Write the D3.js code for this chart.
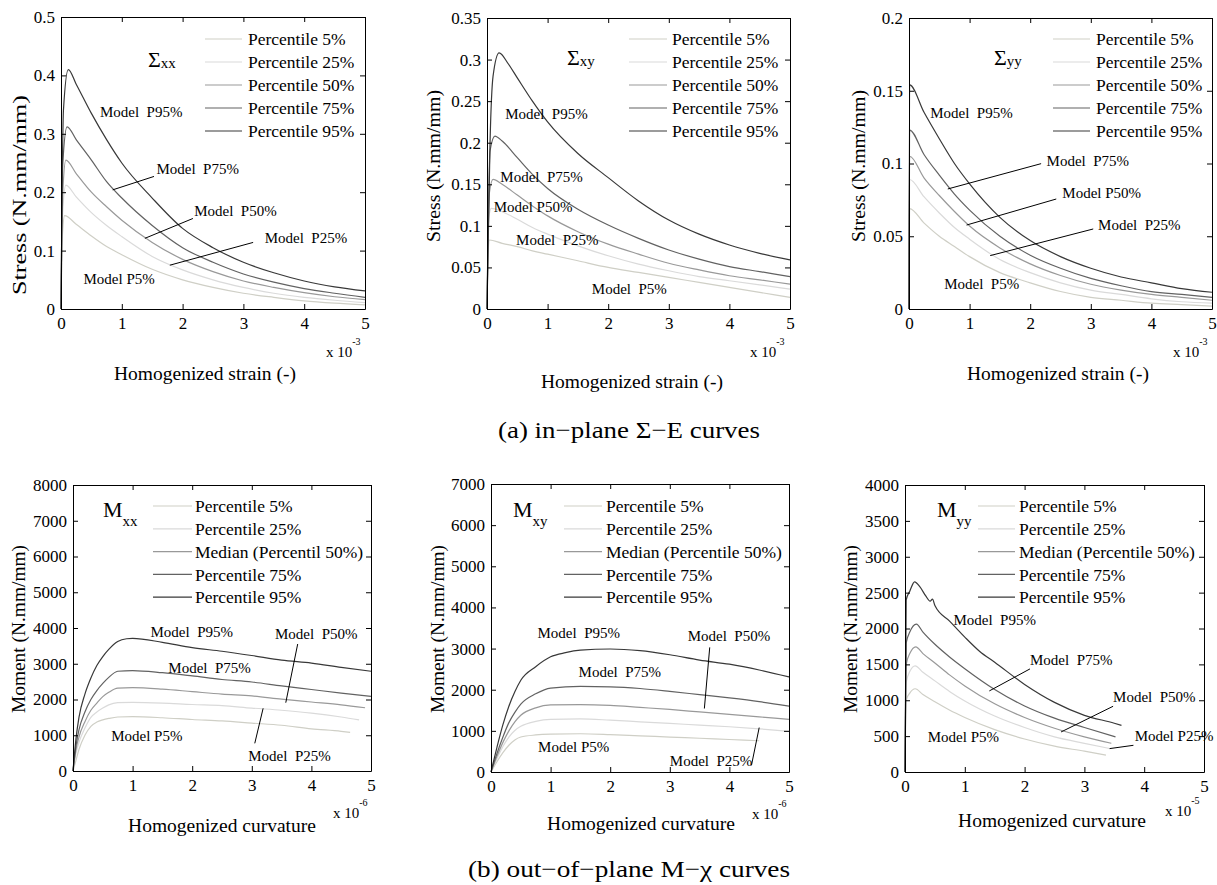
<!DOCTYPE html>
<html>
<head>
<meta charset="utf-8">
<script src="https://cdn.jsdelivr.net/npm/d3@7"></script>
<style>
  body { margin: 0; background: #fff; }
  text { font-family: "Liberation Serif", "Times New Roman", serif; fill: #000; }
  .anno { white-space: pre; font-size: 15px; }
</style>
</head>
<body>
<svg id="fig" width="1217" height="885"></svg>
<script>
// ---- data ---------------------------------------------------------------
// strain in 1e-3 units, stress in N.mm/mm
const sxxP5  = [[0,0],[0.02,0.12],[0.06,0.16],[0.25,0.145],[0.5,0.125],[0.75,0.107],[1,0.093],[1.5,0.068],[2,0.05],[2.5,0.037],[3,0.027],[3.5,0.02],[4,0.014],[4.5,0.01],[5,0.007]];
const sxxP25 = [[0,0],[0.03,0.17],[0.08,0.212],[0.25,0.192],[0.5,0.165],[0.75,0.143],[1,0.124],[1.5,0.09],[2,0.067],[2.5,0.05],[3,0.037],[3.5,0.027],[4,0.02],[4.5,0.015],[5,0.011]];
const sxxP50 = [[0,0],[0.03,0.2],[0.08,0.255],[0.25,0.232],[0.5,0.2],[0.75,0.175],[1,0.152],[1.5,0.114],[2,0.085],[2.5,0.064],[3,0.048],[3.5,0.037],[4,0.028],[4.5,0.021],[5,0.016]];
const sxxP75 = [[0,0],[0.03,0.25],[0.1,0.312],[0.25,0.29],[0.5,0.255],[0.75,0.218],[1,0.19],[1.5,0.143],[2,0.105],[2.5,0.08],[3,0.06],[3.5,0.046],[4,0.035],[4.5,0.027],[5,0.02]];
const sxxP95 = [[0,0],[0.04,0.34],[0.12,0.41],[0.25,0.385],[0.5,0.335],[0.75,0.29],[1,0.25],[1.5,0.19],[2,0.138],[2.5,0.105],[3,0.08],[3.5,0.062],[4,0.048],[4.5,0.038],[5,0.031]];

const sxyP5  = [[0,0],[0.02,0.07],[0.04,0.083],[0.25,0.079],[0.5,0.075],[0.75,0.07],[1,0.066],[1.5,0.058],[2,0.05],[2.5,0.044],[3,0.038],[3.5,0.032],[4,0.026],[4.5,0.02],[5,0.014]];
const sxyP25 = [[0,0],[0.03,0.11],[0.07,0.121],[0.25,0.117],[0.5,0.108],[0.75,0.098],[1,0.09],[1.5,0.076],[2,0.064],[2.5,0.054],[3,0.046],[3.5,0.039],[4,0.034],[4.5,0.029],[5,0.024]];
const sxyP50 = [[0,0],[0.04,0.14],[0.1,0.156],[0.25,0.15],[0.5,0.137],[0.75,0.124],[1,0.112],[1.5,0.093],[2,0.078],[2.5,0.066],[3,0.055],[3.5,0.047],[4,0.04],[4.5,0.035],[5,0.03]];
const sxyP75 = [[0,0],[0.05,0.19],[0.13,0.208],[0.25,0.202],[0.5,0.182],[0.75,0.162],[1,0.145],[1.5,0.12],[2,0.101],[2.5,0.085],[3,0.071],[3.5,0.06],[4,0.051],[4.5,0.045],[5,0.039]];
const sxyP95 = [[0,0],[0.05,0.2],[0.1,0.28],[0.2,0.308],[0.35,0.295],[0.5,0.278],[0.75,0.25],[1,0.225],[1.5,0.187],[2,0.158],[2.5,0.13],[3,0.107],[3.5,0.09],[4,0.077],[4.5,0.067],[5,0.059]];

const syyP5  = [[0,0],[0.01,0.069],[0.25,0.059],[0.5,0.05],[0.75,0.043],[1,0.036],[1.5,0.025],[2,0.018],[2.5,0.012],[3,0.008],[3.5,0.006],[4,0.004],[4.5,0.003],[5,0.002]];
const syyP25 = [[0,0],[0.01,0.089],[0.25,0.077],[0.5,0.066],[0.75,0.056],[1,0.048],[1.5,0.034],[2,0.025],[2.5,0.018],[3,0.013],[3.5,0.01],[4,0.007],[4.5,0.005],[5,0.004]];
const syyP50 = [[0,0],[0.01,0.105],[0.25,0.09],[0.5,0.078],[0.75,0.067],[1,0.057],[1.5,0.042],[2,0.031],[2.5,0.023],[3,0.017],[3.5,0.013],[4,0.01],[4.5,0.008],[5,0.006]];
const syyP75 = [[0,0],[0.01,0.123],[0.25,0.106],[0.5,0.092],[0.75,0.079],[1,0.068],[1.5,0.05],[2,0.037],[2.5,0.028],[3,0.021],[3.5,0.016],[4,0.012],[4.5,0.01],[5,0.008]];
const syyP95 = [[0,0],[0.01,0.154],[0.25,0.135],[0.5,0.117],[0.75,0.1],[1,0.086],[1.5,0.063],[2,0.047],[2.5,0.036],[3,0.028],[3.5,0.022],[4,0.018],[4.5,0.014],[5,0.0115]];

// curvature in 1e-6 (xx, xy) and 1e-5 (yy) units, moment in N.mm/mm
const mxxP5  = [[0,0],[0.05,300],[0.1,600],[0.2,1000],[0.3,1250],[0.4,1370],[0.5,1430],[0.6,1470],[0.75,1510],[1,1520],[1.5,1490],[2,1440],[2.5,1400],[3,1340],[3.5,1280],[4,1180],[4.5,1110],[4.65,1080]];
const mxxP25 = [[0,0],[0.05,500],[0.1,800],[0.2,1200],[0.3,1500],[0.4,1650],[0.5,1760],[0.6,1850],[0.75,1910],[1,1920],[1.5,1900],[2,1860],[2.5,1830],[3,1760],[3.5,1700],[4,1620],[4.5,1510],[4.8,1430]];
const mxxP50 = [[0,0],[0.05,600],[0.1,950],[0.2,1380],[0.3,1700],[0.4,1900],[0.5,2080],[0.6,2200],[0.75,2320],[1,2330],[1.5,2290],[2,2220],[2.5,2150],[3,2100],[3.5,2010],[4,1930],[4.5,1850],[4.9,1770]];
const mxxP75 = [[0,0],[0.05,700],[0.1,1150],[0.2,1650],[0.3,2000],[0.4,2250],[0.5,2450],[0.6,2620],[0.75,2790],[1,2810],[1.5,2750],[2,2660],[2.5,2560],[3,2490],[3.5,2380],[4,2280],[4.5,2180],[5,2090]];
const mxxP95 = [[0,0],[0.05,900],[0.1,1500],[0.2,2150],[0.3,2600],[0.4,2950],[0.5,3200],[0.6,3400],[0.75,3620],[0.9,3700],[1,3710],[1.5,3600],[2,3450],[2.5,3350],[3,3230],[3.5,3100],[4,3020],[4.5,2900],[5,2790]];

const mxyP5  = [[0,0],[0.1,250],[0.2,470],[0.3,650],[0.4,780],[0.5,850],[0.75,900],[1,920],[1.5,930],[2,910],[2.5,880],[3,850],[3.5,820],[4,790],[4.5,760]];
const mxyP25 = [[0,0],[0.1,320],[0.2,620],[0.3,850],[0.4,1010],[0.5,1110],[0.75,1230],[1,1280],[1.5,1290],[2,1260],[2.5,1220],[3,1180],[3.5,1140],[4,1100],[4.5,1050],[5,990]];
const mxyP50 = [[0,0],[0.1,380],[0.2,720],[0.3,1000],[0.4,1220],[0.5,1380],[0.75,1560],[1,1630],[1.5,1640],[2,1620],[2.5,1570],[3,1520],[3.5,1460],[4,1400],[4.5,1340],[5,1280]];
const mxyP75 = [[0,0],[0.1,450],[0.2,850],[0.3,1200],[0.4,1450],[0.5,1650],[0.75,1900],[1,2040],[1.5,2080],[2,2070],[2.5,2030],[3,1960],[3.5,1880],[4,1800],[4.5,1710],[5,1600]];
const mxyP95 = [[0,0],[0.1,600],[0.2,1150],[0.3,1600],[0.4,1950],[0.5,2230],[0.75,2560],[1,2800],[1.25,2900],[1.5,2960],[2,2990],[2.5,2950],[3,2850],[3.5,2720],[4,2620],[4.5,2480],[5,2310]];

const myyP5  = [[0,0],[0.02,1000],[0.08,1100],[0.17,1160],[0.3,1080],[0.5,980],[0.75,860],[1,760],[1.5,590],[2,460],[2.5,360],[3,290],[3.36,235]];
const myyP25 = [[0,0],[0.02,1250],[0.08,1400],[0.17,1480],[0.3,1390],[0.5,1270],[0.75,1120],[1,990],[1.5,780],[2,620],[2.5,490],[3,400],[3.41,330]];
const myyP50 = [[0,0],[0.02,1500],[0.08,1650],[0.18,1745],[0.3,1650],[0.5,1520],[0.75,1350],[1,1200],[1.5,950],[2,760],[2.5,610],[3,490],[3.45,400]];
const myyP75 = [[0,0],[0.02,1800],[0.08,1950],[0.19,2060],[0.3,1950],[0.5,1780],[0.75,1600],[1,1440],[1.5,1150],[2,920],[2.5,750],[3,620],[3.52,490]];
const myyP95 = [[0,0],[0.02,2400],[0.08,2520],[0.16,2650],[0.25,2580],[0.35,2450],[0.42,2380],[0.46,2410],[0.5,2320],[0.75,2100],[1,1880],[1.25,1680],[1.5,1530],[2,1220],[2.5,970],[3,790],[3.5,680],[3.62,650]];

// tick values
const xTicks = [0, 1, 2, 3, 4, 5];
const yTicksSxx = [0, 0.1, 0.2, 0.3, 0.4, 0.5];
const yTicksSxy = [0, 0.05, 0.1, 0.15, 0.2, 0.25, 0.3, 0.35];
const yTicksSyy = [0, 0.05, 0.1, 0.15, 0.2];
const yTicksMxx = [0, 1000, 2000, 3000, 4000, 5000, 6000, 7000, 8000];
const yTicksMxy = [0, 1000, 2000, 3000, 4000, 5000, 6000, 7000];
const yTicksMyy = [0, 500, 1000, 1500, 2000, 2500, 3000, 3500, 4000];

// legend entries
const legendStress = ["Percentile 5%", "Percentile 25%", "Percentile 50%", "Percentile 75%", "Percentile 95%"];
const legendMxx = ["Percentile 5%", "Percentile 25%", "Median (Percentil 50%)", "Percentile 75%", "Percentile 95%"];
const legendMoment = ["Percentile 5%", "Percentile 25%", "Median (Percentile 50%)", "Percentile 75%", "Percentile 95%"];

// "Model Pxx%" call-outs (data coords), optional leader line [x1,y1,x2,y2]
const annoSxx = [
  { t: "Model  P95%", x: 0.64, y: 0.328 },
  { t: "Model  P75%", x: 1.57, y: 0.231, l: [1.53, 0.227, 0.85, 0.204] },
  { t: "Model  P50%", x: 2.19, y: 0.159, l: [2.17, 0.155, 1.38, 0.121] },
  { t: "Model  P25%", x: 3.35, y: 0.113, l: [3.16, 0.114, 1.79, 0.075] },
  { t: "Model P5%", x: 0.37, y: 0.043 }
];
const annoSxy = [
  { t: "Model  P95%", x: 0.30, y: 0.229 },
  { t: "Model  P75%", x: 0.22, y: 0.153 },
  { t: "Model P50%", x: 0.11, y: 0.117 },
  { t: "Model  P25%", x: 0.48, y: 0.077 },
  { t: "Model  P5%", x: 1.73, y: 0.018 }
];
const annoSyy = [
  { t: "Model  P95%", x: 0.35, y: 0.131 },
  { t: "Model  P75%", x: 2.27, y: 0.098, l: [2.18, 0.0999, 0.64, 0.0825] },
  { t: "Model P50%", x: 2.53, y: 0.0765, l: [2.43, 0.0756, 0.95, 0.0577] },
  { t: "Model  P25%", x: 3.12, y: 0.054, l: [3.04, 0.055, 1.34, 0.0367] },
  { t: "Model  P5%", x: 0.58, y: 0.0135 }
];
const annoMxx = [
  { t: "Model  P95%", x: 1.30, y: 3758 },
  { t: "Model  P50%", x: 3.39, y: 3692, l: [3.77, 3552, 3.57, 1911] },
  { t: "Model  P75%", x: 1.60, y: 2741 },
  { t: "Model P5%", x: 0.64, y: 848 },
  { t: "Model  P25%", x: 2.94, y: 289, l: [3.05, 774, 3.19, 1753] }
];
const annoMxy = [
  { t: "Model  P95%", x: 0.78, y: 3248 },
  { t: "Model  P50%", x: 3.30, y: 3191, l: [3.67, 3029, 3.58, 1543] },
  { t: "Model  P75%", x: 1.47, y: 2298 },
  { t: "Model P5%", x: 0.79, y: 495 },
  { t: "Model  P25%", x: 3.0, y: 146, l: [4.37, 162, 4.50, 1080] }
];
const annoMyy = [
  { t: "Model  P95%", x: 0.81, y: 2051 },
  { t: "Model  P75%", x: 2.09, y: 1493, l: [2.09, 1437, 1.41, 1130] },
  { t: "Model  P50%", x: 3.48, y: 981, l: [3.48, 916, 2.61, 558] },
  { t: "Model P25%", x: 3.84, y: 433, l: [3.82, 372, 3.42, 326] },
  { t: "Model P5%", x: 0.38, y: 419 }
];

// ---- styling / layout -----------------------------------------------------
const seriesColors = ["#cfcfc6", "#dadada", "#999999", "#626262", "#383838"];

const panels = [
  { box: [61, 365, 17, 309], yMax: 0.5, yTicks: yTicksSxx, series: [sxxP5, sxxP25, sxxP50, sxxP75, sxxP95],
    legend: legendStress, leg: [205, 242, 248, 39, 23], sym: ["Σ", "xx", 148, 67, 1],
    ylab: ["Stress (N.mm/mm)", 19, 195, 200], xlab: ["Homogenized strain (-)", 205, 380], expo: ["-3", 326, 357], anno: annoSxx },
  { box: [487, 790, 18, 309], yMax: 0.35, yTicks: yTicksSxy, series: [sxyP5, sxyP25, sxyP50, sxyP75, sxyP95],
    legend: legendStress, leg: [629, 667, 672, 39, 23], sym: ["Σ", "xy", 567, 65, 1],
    ylab: ["Stress (N.mm/mm)", 433, 166, 152], xlab: ["Homogenized strain (-)", 632, 388], expo: ["-3", 750, 357], anno: annoSxy },
  { box: [909, 1212, 18, 309], yMax: 0.2, yTicks: yTicksSyy, series: [syyP5, syyP25, syyP50, syyP75, syyP95],
    legend: legendStress, leg: [1053, 1090, 1096, 39, 23], sym: ["Σ", "yy", 994, 65, 1],
    ylab: ["Stress (N.mm/mm)", 858, 166, 152], xlab: ["Homogenized strain (-)", 1058, 380], expo: ["-3", 1173, 357], anno: annoSyy },
  { box: [73, 371, 485, 771], yMax: 8000, yTicks: yTicksMxx, series: [mxxP5, mxxP25, mxxP50, mxxP75, mxxP95],
    legend: legendMxx, leg: [153, 192, 195, 506, 22.8], sym: ["M", "xx", 103, 517, 9],
    ylab: ["Moment (N.mm/mm)", 18, 629, 168], xlab: ["Homogenized curvature", 222, 832], expo: ["-6", 333, 818], anno: annoMxx },
  { box: [491, 789, 484, 772], yMax: 7000, yTicks: yTicksMxy, series: [mxyP5, mxyP25, mxyP50, mxyP75, mxyP95],
    legend: legendMoment, leg: [564, 602, 606, 506, 22.8], sym: ["M", "xy", 513, 517, 9],
    ylab: ["Moment (N.mm/mm)", 437, 629, 168], xlab: ["Homogenized curvature", 641, 830], expo: ["-6", 752, 819], anno: annoMxy },
  { box: [905, 1204, 485, 772], yMax: 4000, yTicks: yTicksMyy, series: [myyP5, myyP25, myyP50, myyP75, myyP95],
    legend: legendMoment, leg: [978, 1015, 1019, 506, 22.8], sym: ["M", "yy", 937, 517, 9],
    ylab: ["Moment (N.mm/mm)", 850, 629, 168], xlab: ["Homogenized curvature", 1052, 827], expo: ["-5", 1165, 816], anno: annoMyy }
];

const svg = d3.select("#fig");
const fmt = d3.format("~g");

function styleAxis(sel) {
  sel.select(".domain").attr("stroke", "#000").attr("stroke-width", 1);
  sel.selectAll(".tick line").attr("stroke", "#000");
  sel.selectAll("text")
    .attr("fill", "#000")
    .style("font-family", "'Liberation Serif', 'Times New Roman', serif")
    .style("font-size", "17px");
}

panels.forEach(p => {
  const [left, right, top, bottom] = p.box;
  const x = d3.scaleLinear().domain([0, 5]).range([left, right]);
  const y = d3.scaleLinear().domain([0, p.yMax]).range([bottom, top]);
  const g = svg.append("g");

  // curves
  const line = d3.line()
    .x(d => x(d[0]))
    .y(d => y(d[1]))
    .curve(d3.curveMonotoneX);

  g.selectAll("path.curve")
    .data(p.series)
    .enter()
    .append("path")
    .attr("class", "curve")
    .attr("d", line)
    .attr("fill", "none")
    .attr("stroke", (d, i) => seriesColors[i])
    .attr("stroke-width", 1.2);

  // box with inward ticks on all four sides
  g.append("g")
    .attr("transform", `translate(0,${bottom})`)
    .call(d3.axisBottom(x).tickValues(xTicks).tickSizeInner(-5).tickSizeOuter(0).tickPadding(8).tickFormat(fmt))
    .call(styleAxis);
  g.append("g")
    .attr("transform", `translate(0,${top})`)
    .call(d3.axisTop(x).tickValues(xTicks).tickSizeInner(-5).tickSizeOuter(0).tickFormat(""))
    .call(styleAxis);
  g.append("g")
    .attr("transform", `translate(${left},0)`)
    .call(d3.axisLeft(y).tickValues(p.yTicks).tickSizeInner(-5).tickSizeOuter(0).tickPadding(6).tickFormat(fmt))
    .call(styleAxis);
  g.append("g")
    .attr("transform", `translate(${right},0)`)
    .call(d3.axisRight(y).tickValues(p.yTicks).tickSizeInner(-5).tickSizeOuter(0).tickFormat(""))
    .call(styleAxis);

  // legend
  const [lx1, lx2, tx, ly0, dy] = p.leg;
  p.legend.forEach((lab, i) => {
    const yy = ly0 + i * dy;
    g.append("line")
      .attr("x1", lx1).attr("x2", lx2)
      .attr("y1", yy).attr("y2", yy)
      .attr("stroke", seriesColors[i])
      .attr("stroke-width", 1.2);
    g.append("text")
      .attr("x", tx).attr("y", yy)
      .attr("dy", "0.35em")
      .style("font-size", "17.5px")
      .text(lab);
  });

  // component symbol
  const [s, sub, sx, sy, subDy] = p.sym;
  const st = g.append("text").attr("x", sx).attr("y", sy).style("font-size", "22px");
  st.append("tspan").text(s);
  st.append("tspan").attr("dy", subDy).style("font-size", "15px").text(sub);

  // axis labels
  const [yl, ylx, yly, yll] = p.ylab;
  g.append("text")
    .attr("transform", `translate(${ylx},${yly}) rotate(-90)`)
    .attr("text-anchor", "middle")
    .attr("dy", "0.35em")
    .attr("textLength", yll)
    .attr("lengthAdjust", "spacingAndGlyphs")
    .style("font-size", "19px")
    .text(yl);

  const [xl, xlx, xly] = p.xlab;
  g.append("text")
    .attr("x", xlx).attr("y", xly)
    .attr("text-anchor", "middle")
    .style("font-size", "19.5px")
    .text(xl);

  // exponent multiplier
  const [ex, exx, exy] = p.expo;
  const et = g.append("text").attr("x", exx).attr("y", exy).style("font-size", "15px");
  et.append("tspan").text("x 10");
  et.append("tspan").attr("dy", -12).style("font-size", "10px").text(ex);

  // call-outs
  p.anno.forEach(a => {
    if (a.l) {
      g.append("line")
        .attr("x1", x(a.l[0])).attr("y1", y(a.l[1]))
        .attr("x2", x(a.l[2])).attr("y2", y(a.l[3]))
        .attr("stroke", "#000")
        .attr("stroke-width", 1);
    }
    g.append("text")
      .attr("class", "anno")
      .attr("x", x(a.x)).attr("y", y(a.y))
      .text(a.t);
  });
});

// sub-figure captions
svg.append("text")
  .attr("x", 629).attr("y", 438)
  .attr("text-anchor", "middle")
  .attr("textLength", 262)
  .attr("lengthAdjust", "spacingAndGlyphs")
  .style("font-size", "24px")
  .text("(a) in\u2212plane \u03a3\u2212E curves");

svg.append("text")
  .attr("x", 629).attr("y", 877)
  .attr("text-anchor", "middle")
  .attr("textLength", 322)
  .attr("lengthAdjust", "spacingAndGlyphs")
  .style("font-size", "24px")
  .text("(b) out\u2212of\u2212plane M\u2212\u03c7 curves");
</script>
</body>
</html>
